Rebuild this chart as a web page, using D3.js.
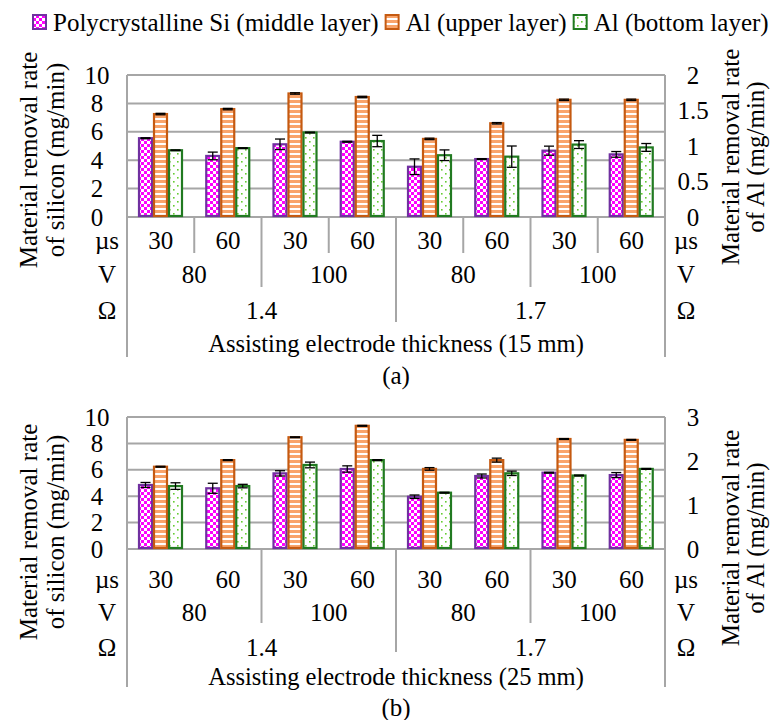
<!DOCTYPE html>
<html>
<head>
<meta charset="utf-8">
<script src="https://cdn.jsdelivr.net/npm/d3@7"></script>
<style>
  body { margin: 0; background: #fff; }
  svg text { font-family: "Liberation Serif", "DejaVu Serif", "Times New Roman", serif; fill: #000; }
</style>
</head>
<body>
<script>
let width = 771;
let height = 720;

// category labels (three-level axis)
const pulseLabels = ["30", "60", "30", "60", "30", "60", "30", "60"];
const voltLabels = ["80", "100", "80", "100"];
const ohmLabels = ["1.4", "1.7"];
const seriesNames = ["Polycrystalline Si (middle layer)", "Al (upper layer)", "Al (bottom layer)"];

// panel (a): 15 mm electrode
const siA = [5.55, 4.3, 5.12, 5.3, 3.54, 4.08, 4.67, 4.41];
const siErrA = [0.03, 0.27, 0.37, 0.03, 0.55, 0.03, 0.32, 0.2];
const alUpA = [1.45, 1.52, 1.74, 1.69, 1.10, 1.32, 1.65, 1.65];
const alUpErrA = [0.01, 0.01, 0.01, 0.01, 0.01, 0.01, 0.01, 0.01];
const alBotA = [0.94, 0.97, 1.19, 1.07, 0.87, 0.85, 1.02, 0.98];
const alBotErrA = [0.005, 0.005, 0.005, 0.08, 0.075, 0.15, 0.055, 0.055];
const leftTicksA = [0, 2, 4, 6, 8, 10];
const rightTicksA = [0, 0.5, 1, 1.5, 2];

// panel (b): 25 mm electrode
const siB = [4.85, 4.6, 5.73, 6.06, 3.96, 5.53, 5.78, 5.6];
const siErrB = [0.19, 0.38, 0.2, 0.24, 0.13, 0.15, 0.03, 0.19];
const alUpB = [1.87, 2.02, 2.54, 2.8, 1.82, 2.02, 2.5, 2.48];
const alUpErrB = [0.01, 0.01, 0.01, 0.01, 0.03, 0.045, 0.01, 0.01];
const alBotB = [1.43, 1.43, 1.91, 2.02, 1.28, 1.72, 1.67, 1.82];
const alBotErrB = [0.075, 0.04, 0.065, 0.01, 0.01, 0.05, 0.01, 0.01];
const leftTicksB = [0, 2, 4, 6, 8, 10];
const rightTicksB = [0, 1, 2, 3];

const strokes = ["#7030a0", "#c55a11", "#217a21"];
const fills = ["url(#checker)", "url(#stripes)", "url(#dots)"];
const gridColor = "#a6a6a6";
const serif = "'Liberation Serif', 'DejaVu Serif', 'Times New Roman', serif";

let svg = d3.select("body").append("svg")
            .attr("width", width)
            .attr("height", height)
            .attr("font-family", serif);

// fill patterns
let defs = svg.append("defs");
let p1 = defs.append("pattern").attr("id", "checker").attr("patternUnits", "userSpaceOnUse")
             .attr("width", 6).attr("height", 6);
p1.append("rect").attr("width", 6).attr("height", 6).attr("fill", "#ff00ff");
p1.append("rect").attr("x", 0).attr("y", 0).attr("width", 3).attr("height", 3).attr("fill", "#fff");
p1.append("rect").attr("x", 3).attr("y", 3).attr("width", 3).attr("height", 3).attr("fill", "#fff");

let p2 = defs.append("pattern").attr("id", "stripes").attr("patternUnits", "userSpaceOnUse")
             .attr("width", 6).attr("height", 5);
p2.append("rect").attr("width", 6).attr("height", 5).attr("fill", "#fff");
p2.append("rect").attr("y", 0).attr("width", 6).attr("height", 3).attr("fill", "#f9a46b");

let p3 = defs.append("pattern").attr("id", "dots").attr("patternUnits", "userSpaceOnUse")
             .attr("width", 8).attr("height", 8);
p3.append("rect").attr("width", 8).attr("height", 8).attr("fill", "#fff");
p3.append("rect").attr("x", 1).attr("y", 1).attr("width", 1.6).attr("height", 1.6).attr("fill", "#66cc33");
p3.append("rect").attr("x", 5).attr("y", 5).attr("width", 1.6).attr("height", 1.6).attr("fill", "#66cc33");

// legend
let legend = svg.append("g");
let lx = 32;
seriesNames.forEach(function(name, i) {
  legend.append("rect")
        .attr("x", lx + 1).attr("y", 15).attr("width", 13).attr("height", 14)
        .attr("fill", fills[i]).attr("stroke", strokes[i]).attr("stroke-width", 2);
  let t = legend.append("text")
                .attr("x", lx + 21).attr("y", 22)
                .attr("dominant-baseline", "central")
                .style("font-family", serif)
                .style("font-size", "25px")
                .text(name);
  lx += 21 + t.node().getComputedTextLength() + 6;
});


function drawPanel(cfg) {
  let g = svg.append("g").style("font-family", serif);
  let left = 127, right = 665;
  let fs = "25px";

  let x0 = d3.scaleBand().domain(d3.range(8)).range([left, right]);
  let x1 = d3.scaleBand().domain([0, 1, 2]).range([11, 56]);
  let yL = d3.scaleLinear().domain([0, 10]).range([cfg.bottom, cfg.top]);
  let yR = d3.scaleLinear().domain([0, d3.max(cfg.rightTicks)]).range([cfg.bottom, cfg.top]);

  // gridlines
  g.append("g").selectAll("line")
   .data(cfg.leftTicks)
   .enter().append("line")
   .attr("x1", left).attr("x2", right)
   .attr("y1", d => yL(d)).attr("y2", d => yL(d))
   .attr("stroke", gridColor).attr("stroke-width", 2);

  // tick labels
  g.append("g").selectAll("text")
   .data(cfg.leftTicks)
   .enter().append("text")
   .attr("x", 97).attr("y", d => yL(d))
   .attr("text-anchor", "middle").attr("dominant-baseline", "central")
   .style("font-size", fs)
   .text(d => d);

  g.append("g").selectAll("text")
   .data(cfg.rightTicks)
   .enter().append("text")
   .attr("x", 693).attr("y", d => yR(d))
   .attr("text-anchor", "middle").attr("dominant-baseline", "central")
   .style("font-size", fs)
   .text(d => d);

  // bars
  let rows = d3.range(8).map(function(i) {
    return [
      {i: i, s: 0, v: cfg.si[i], e: cfg.siErr[i], y: yL},
      {i: i, s: 1, v: cfg.alUp[i], e: cfg.alUpErr[i], y: yR},
      {i: i, s: 2, v: cfg.alBot[i], e: cfg.alBotErr[i], y: yR}
    ];
  });
  let flat = [].concat.apply([], rows);

  g.append("g").selectAll("rect")
   .data(flat)
   .enter().append("rect")
   .attr("x", d => x0(d.i) + x1(d.s) + 1)
   .attr("width", x1.bandwidth() - 2)
   .attr("y", d => d.y(d.v))
   .attr("height", d => cfg.bottom - d.y(d.v) - 1)
   .attr("fill", d => fills[d.s])
   .attr("stroke", d => strokes[d.s])
   .attr("stroke-width", 2.2);

  // error bars
  let eb = g.append("g").selectAll("g")
            .data(flat)
            .enter().append("g")
            .attr("stroke", "#000").attr("stroke-width", 1.3);
  let cx = d => x0(d.i) + x1(d.s) + x1.bandwidth() / 2;
  eb.append("line")
    .attr("x1", cx).attr("x2", cx)
    .attr("y1", d => d.y(d.v - d.e)).attr("y2", d => d.y(d.v + d.e));
  eb.append("line")
    .attr("x1", d => cx(d) - 5).attr("x2", d => cx(d) + 5)
    .attr("y1", d => d.y(d.v + d.e)).attr("y2", d => d.y(d.v + d.e));
  eb.append("line")
    .attr("x1", d => cx(d) - 5).attr("x2", d => cx(d) + 5)
    .attr("y1", d => d.y(d.v - d.e)).attr("y2", d => d.y(d.v - d.e));

  // table lines
  let lines = g.append("g").attr("stroke", gridColor).attr("stroke-width", 2);
  lines.append("line").attr("x1", left).attr("x2", left)
       .attr("y1", cfg.top).attr("y2", cfg.tableBottom);
  lines.append("line").attr("x1", right).attr("x2", right)
       .attr("y1", cfg.top).attr("y2", cfg.tableBottom);
  d3.range(1, 8).forEach(function(k) {
    let yEnd = null;
    if (k === 4) yEnd = cfg.ohmSep;
    else if (k % 2 === 0) yEnd = cfg.voltSep;
    else if (cfg.usSep) yEnd = cfg.usSep;
    if (yEnd) {
      lines.append("line").attr("x1", x0(k)).attr("x2", x0(k))
           .attr("y1", cfg.bottom).attr("y2", yEnd);
    }
  });

  // category labels
  let bw = x0.bandwidth();
  let labels = g.append("g").style("font-size", fs)
                .attr("text-anchor", "middle").attr("dominant-baseline", "central");
  pulseLabels.forEach(function(t, i) {
    labels.append("text").attr("x", x0(i) + bw / 2).attr("y", cfg.usY).text(t);
  });
  voltLabels.forEach(function(t, i) {
    labels.append("text").attr("x", x0(i * 2) + bw).attr("y", cfg.vY).text(t);
  });
  ohmLabels.forEach(function(t, i) {
    labels.append("text").attr("x", x0(i * 4) + bw * 2).attr("y", cfg.ohmY).text(t);
  });
  [["µs", cfg.usY], ["V", cfg.vY], ["Ω", cfg.ohmY]].forEach(function(r) {
    labels.append("text").attr("x", 107).attr("y", r[1]).text(r[0]);
    labels.append("text").attr("x", 686).attr("y", r[1]).text(r[0]);
  });
  labels.append("text").attr("x", (left + right) / 2).attr("y", cfg.titleY)
        .style("font-size", "24.5px").text(cfg.title);
  labels.append("text").attr("x", 396).attr("y", cfg.capY).text(cfg.caption);

  // axis titles
  let at = g.append("g").style("font-size", fs)
            .attr("text-anchor", "middle").attr("dominant-baseline", "central");
  at.append("text").attr("transform", "translate(28," + cfg.leftTitleY + ") rotate(-90)")
    .text("Material removal rate");
  at.append("text").attr("transform", "translate(55," + cfg.leftTitleY + ") rotate(-90)")
    .text("of silicon (mg/min)");
  at.append("text").attr("transform", "translate(730," + cfg.rightTitleY + ") rotate(-90)")
    .text("Material removal rate");
  at.append("text").attr("transform", "translate(755," + cfg.rightTitleY + ") rotate(-90)")
    .text("of Al (mg/min)");
}

drawPanel({
  top: 75, bottom: 217,
  si: siA, siErr: siErrA, alUp: alUpA, alUpErr: alUpErrA, alBot: alBotA, alBotErr: alBotErrA,
  leftTicks: leftTicksA, rightTicks: rightTicksA,
  usY: 240, vY: 274, ohmY: 310, titleY: 343, capY: 375,
  usSep: 253, voltSep: 287, ohmSep: 322, tableBottom: 357,
  leftTitleY: 160, rightTitleY: 157,
  title: "Assisting electrode thickness (15 mm)", caption: "(a)"
});

drawPanel({
  top: 417, bottom: 549,
  si: siB, siErr: siErrB, alUp: alUpB, alUpErr: alUpErrB, alBot: alBotB, alBotErr: alBotErrB,
  leftTicks: leftTicksB, rightTicks: rightTicksB,
  usY: 579, vY: 612, ohmY: 647, titleY: 676, capY: 707,
  usSep: null, voltSep: 623, ohmSep: 652, tableBottom: 687,
  leftTitleY: 532, rightTitleY: 538,
  title: "Assisting electrode thickness (25 mm)", caption: "(b)"
});
</script>
</body>
</html>
